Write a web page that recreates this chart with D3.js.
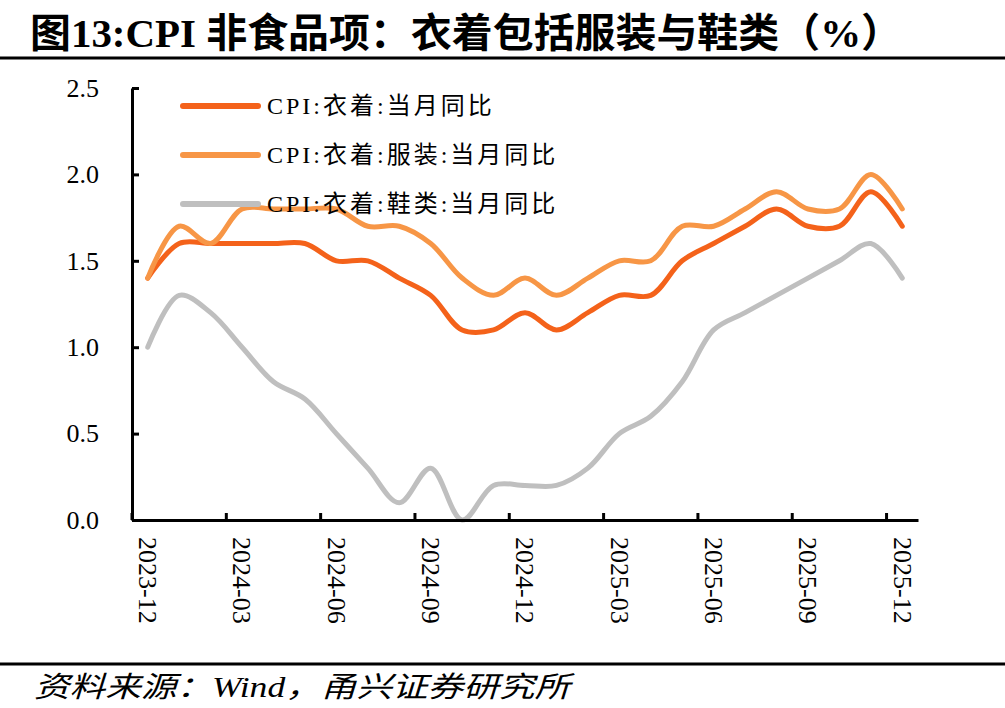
<!DOCTYPE html>
<html>
<head>
<meta charset="utf-8">
<script src="https://cdn.jsdelivr.net/npm/d3@7"></script>
<style>
  body { margin: 0; background: #fff; }
  svg { display: block; }
</style>
</head>
<body>
<main></main>
<script>
// 月份（类目轴）
const months = ['2023-12','2024-01','2024-02','2024-03','2024-04','2024-05','2024-06','2024-07','2024-08','2024-09','2024-10','2024-11','2024-12',
  '2025-01','2025-02','2025-03','2025-04','2025-05','2025-06','2025-07','2025-08','2025-09','2025-10','2025-11','2025-12'];

// 三个序列（当月同比 %）
const yiZhuo   = [1.4,1.6,1.6,1.6,1.6,1.6,1.5,1.5,1.4,1.3,1.1,1.1,1.2,1.1,1.2,1.3,1.3,1.5,1.6,1.7,1.8,1.7,1.7,1.9,1.7];
const fuZhuang = [1.4,1.7,1.6,1.8,1.8,1.8,1.8,1.7,1.7,1.6,1.4,1.3,1.4,1.3,1.4,1.5,1.5,1.7,1.7,1.8,1.9,1.8,1.8,2.0,1.8];
const xieLei   = [1.0,1.3,1.2,1.0,0.8,0.7,0.5,0.3,0.1,0.3,0.0,0.2,0.2,0.2,0.3,0.5,0.6,0.8,1.1,1.2,1.3,1.4,1.5,1.6,1.4];

const seriesNames = ['CPI:衣着:当月同比', 'CPI:衣着:服装:当月同比', 'CPI:衣着:鞋类:当月同比'];
const seriesColors = ['#F4621A', '#F79646', '#BFBFBF'];
const yTicks = [0, 0.5, 1.0, 1.5, 2.0, 2.5];
const xTickLabels = months.filter((m, i) => i % 3 === 0);

function createChart() {
    const svgWidth = 1005, svgHeight = 708;
    const svg = d3.select('main').append('svg')
        .attr('width', svgWidth)
        .attr('height', svgHeight);

    const serif = '"Liberation Serif", "Times New Roman", "Noto Sans CJK SC", serif';

    // 标题
    svg.append('text')
        .attr('x', 30).attr('y', 47)
        .attr('textLength', 872).attr('lengthAdjust', 'spacingAndGlyphs')
        .style('font-family', serif)
        .style('font-weight', 'bold')
        .style('font-size', '40px')
        .text('图13:CPI 非食品项：衣着包括服装与鞋类（%）');

    svg.append('line')
        .attr('x1', 0).attr('x2', svgWidth).attr('y1', 58).attr('y2', 58)
        .attr('stroke', '#000').attr('stroke-width', 3);

    // 脚注
    svg.append('line')
        .attr('x1', 0).attr('x2', svgWidth).attr('y1', 664).attr('y2', 664)
        .attr('stroke', '#000').attr('stroke-width', 3);

    svg.append('text')
        .attr('x', 34).attr('y', 697)
        .attr('textLength', 536).attr('lengthAdjust', 'spacingAndGlyphs')
        .style('font-family', serif)
        .style('font-style', 'italic')
        .style('font-size', '29px')
        .text('资料来源：Wind，甬兴证券研究所');

    // 比例尺
    const xScale = d3.scaleBand()
        .domain(months)
        .range([132, 918])
        .padding(0);

    const yScale = d3.scaleLinear()
        .domain([0, 2.5])
        .range([520, 88]);

    const bw = xScale.bandwidth();

    // 线
    const line = d3.line()
        .x((d, i) => xScale(months[i]) + bw / 2)
        .y(d => yScale(d))
        .curve(d3.curveCatmullRom.alpha(0.5));

    [yiZhuo, fuZhuang, xieLei].forEach((s, k) => {
        svg.append('path')
            .datum(s)
            .attr('d', line)
            .attr('fill', 'none')
            .attr('stroke', seriesColors[k])
            .attr('stroke-width', 5)
            .attr('stroke-linecap', 'round')
            .attr('stroke-linejoin', 'round');
    });

    // Y轴
    const yAxis = svg.append('g')
        .attr('transform', 'translate(132,0)')
        .call(d3.axisLeft(yScale)
            .tickValues(yTicks)
            .tickFormat(d3.format('.1f'))
            .tickSizeInner(-7)
            .tickSizeOuter(0)
            .tickPadding(33));
    yAxis.select('.domain').attr('stroke-width', 3);
    yAxis.selectAll('.tick line').attr('stroke-width', 3);
    yAxis.selectAll('.tick text')
        .style('font-family', serif)
        .style('font-size', '26px')
        .attr('fill', '#000');

    // X轴（刻度线位于类目之间）
    const xAxis = svg.append('g')
        .attr('transform', 'translate(0,520)')
        .call(d3.axisBottom(xScale)
            .tickValues(xTickLabels)
            .tickSizeInner(-7)
            .tickSizeOuter(0));
    xAxis.select('.domain').attr('stroke-width', 3);
    xAxis.selectAll('.tick line')
        .attr('x1', -bw / 2).attr('x2', -bw / 2)
        .attr('stroke-width', 3);
    xAxis.selectAll('.tick text')
        .attr('y', 0).attr('dy', '0.33em')
        .attr('transform', 'translate(0,17) rotate(90)')
        .attr('text-anchor', 'start')
        .style('font-family', serif)
        .style('font-size', '26px')
        .attr('fill', '#000');

    // 图例
    const legend = svg.append('g');
    seriesNames.forEach((name, k) => {
        const yy = 106 + k * 49;
        legend.append('line')
            .attr('x1', 183).attr('x2', 258)
            .attr('y1', yy).attr('y2', yy)
            .attr('stroke', seriesColors[k])
            .attr('stroke-width', 6)
            .attr('stroke-linecap', 'round');
        legend.append('text')
            .attr('x', 267).attr('y', yy)
            .attr('dy', '0.35em')
            .style('font-family', serif)
            .style('font-size', '24px')
            .style('letter-spacing', '3px')
            .text(name);
    });
}

createChart();
</script>
</body>
</html>
